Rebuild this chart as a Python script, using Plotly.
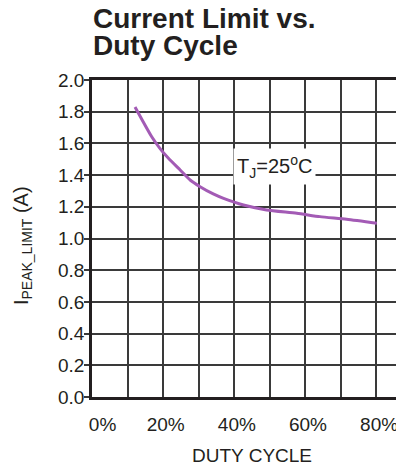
import plotly.graph_objects as go

# Data
duty_cycle_pct = [12.1, 16.8, 19.1, 21.5, 24.8, 27.6, 30.4, 34.1, 37.0, 42.6, 49.1, 57.6, 64.1, 71.6, 80.1]
peak_limit_a = [1.83, 1.642, 1.569, 1.506, 1.432, 1.369, 1.327, 1.281, 1.253, 1.211, 1.180, 1.159, 1.138, 1.121, 1.096]

x_tick_vals = [0, 10, 20, 30, 40, 50, 60, 70, 80]
x_tick_text = ["\u00a0\u00a0\u00a0\u00a00%", "", "\u00a020%", "", "\u00a040%", "", "\u00a060%", "", "\u00a080%"]
y_tick_vals = [0.0, 0.2, 0.4, 0.6, 0.8, 1.0, 1.2, 1.4, 1.6, 1.8, 2.0]
y_tick_text = ["0.0", "0.2", "0.4", "0.6", "0.8", "1.0", "1.2", "1.4", "1.6", "1.8", "2.0"]

title_lines = ["Current Limit vs.", "Duty Cycle"]
x_title = "DUTY CYCLE"
y_title = "I<sub>PEAK_LIMIT</sub> (A)"
curve_label = "T<sub>J</sub>=25<sup>o</sup>C"

TEXT = "#231f20"
GRID = "#3a3a3a"
FONT = "Liberation Sans, Arial, Helvetica, sans-serif"

# the page body has an 8px default margin, so the figure is drawn 8px in
PAGE_OFFSET = 8

fig = go.Figure()
fig.add_trace(go.Scatter(
    x=duty_cycle_pct, y=peak_limit_a, mode="lines",
    line=dict(color="#a35bb5", width=3, shape="spline", smoothing=0.6),
    hoverinfo="skip", showlegend=False,
))

fig.update_layout(
    width=404 - PAGE_OFFSET, height=468 - PAGE_OFFSET,
    margin=dict(l=92 - PAGE_OFFSET, r=0, t=80 - PAGE_OFFSET, b=71),
    paper_bgcolor="white", plot_bgcolor="white",
    font=dict(family=FONT, color=TEXT, size=19),
    xaxis=dict(
        range=[0, 87.75], tickmode="array", tickvals=x_tick_vals, ticktext=x_tick_text,
        showgrid=True, gridcolor=GRID, gridwidth=1.5, zeroline=False,
        showline=True, mirror=True, linecolor=TEXT, linewidth=2.5,
        ticks="", ticklabelstandoff=8,
        tickfont=dict(size=19, color=TEXT, family=FONT),
    ),
    yaxis=dict(
        range=[0, 2.0], tickmode="array", tickvals=y_tick_vals, ticktext=y_tick_text,
        showgrid=True, gridcolor=GRID, gridwidth=1.5, zeroline=False,
        showline=True, mirror=False, linecolor=TEXT, linewidth=2.5,
        ticks="outside", ticklen=5, tickcolor=GRID, tickwidth=1.5,
        ticklabelstandoff=-4,
        tickfont=dict(size=19, color=TEXT, family=FONT),
    ),
    annotations=[
        dict(text="<b>" + title_lines[0] + "</b>", xref="paper", yref="paper", x=0, y=1,
             xanchor="left", yanchor="middle", xshift=-1, yshift=61.5, showarrow=False,
             font=dict(size=28, color=TEXT, family=FONT)),
        dict(text="<b>" + title_lines[1] + "</b>", xref="paper", yref="paper", x=0, y=1,
             xanchor="left", yanchor="middle", xshift=-1, yshift=34.8, showarrow=False,
             font=dict(size=28, color=TEXT, family=FONT)),
        dict(text=curve_label, xref="x", yref="y", x=51.2, y=1.455, showarrow=False,
             bgcolor="white", borderpad=3, font=dict(size=20, color=TEXT, family=FONT)),
        dict(text=x_title, xref="x", yref="paper", x=45, y=0, yanchor="middle",
             yshift=-58, showarrow=False, font=dict(size=19, color=TEXT, family=FONT)),
        dict(text=y_title, xref="paper", yref="paper", x=0, y=0.476, xanchor="center",
             yanchor="middle", xshift=-70, textangle=-90, showarrow=False,
             font=dict(size=20, color=TEXT, family=FONT)),
    ],
)

fig.write_html("out.html")
